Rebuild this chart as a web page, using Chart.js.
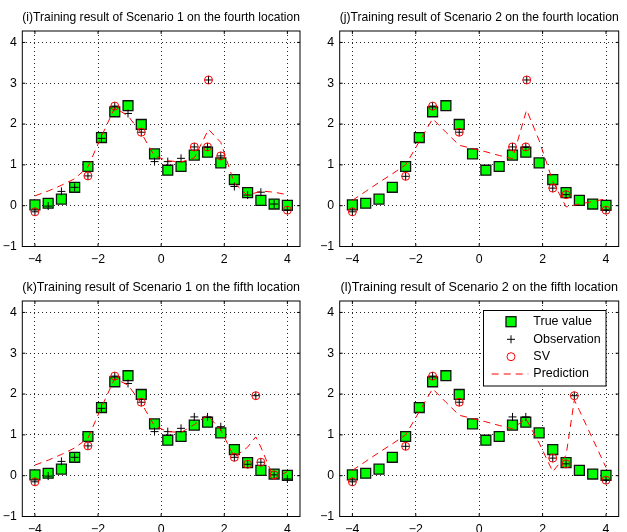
<!DOCTYPE html>
<html>
<head>
<meta charset="utf-8">
<script src="https://cdn.jsdelivr.net/npm/chart.js@4.4.0/dist/chart.umd.min.js"></script>
<style>
html, body { margin: 0; padding: 0; background: #fff; overflow: hidden; }
body { width: 627px; height: 532px; position: relative; }
canvas { position: absolute; }
</style>
</head>
<body>
<canvas id="c1" width="313" height="266" style="left:0;top:0"></canvas>
<canvas id="c2" width="314" height="266" style="left:313px;top:0"></canvas>
<canvas id="c3" width="313" height="262" style="left:0;top:270px"></canvas>
<canvas id="c4" width="314" height="262" style="left:313px;top:270px"></canvas>
<script>
// inputs (20 points on [-4,4]) and true function values
const xGrid = [-4, -3.58, -3.16, -2.74, -2.32, -1.89, -1.47, -1.05, -0.63, -0.21,
               0.21, 0.63, 1.05, 1.47, 1.89, 2.32, 2.74, 3.16, 3.58, 4];
const trueVals = [0.02, 0.06, 0.16, 0.45, 0.96, 1.67, 2.30, 2.45, 1.99, 1.27,
                  0.87, 0.96, 1.24, 1.31, 1.05, 0.64, 0.32, 0.13, 0.04, 0.01];

const xTicks = [-4, -2, 0, 2, 4];
const yTicks = [-1, 0, 1, 2, 3, 4];

const titles = [
  '(i)Training result of Scenario 1 on the fourth location',
  '(j)Training result of Scenario 2 on the fourth location',
  '(k)Training result of Scenario 1 on the fifth location',
  '(l)Training result of Scenario 2 on the fifth location'
];
const legendLabels = ['True value', 'Observation', 'SV', 'Prediction'];

// (i) scenario 1, fourth location
const obsX_i = [-4, -3.58, -3.16, -2.74, -2.32, -1.89, -1.47, -1.05, -0.63, -0.21,
                0.21, 0.63, 1.05, 1.47, 1.5, 1.89, 2.32, 2.74, 3.16, 3.58, 4];
const obsY_i = [-0.15, -0.01, 0.35, 0.45, 0.73, 1.65, 2.44, 2.26, 1.80, 1.08,
                1.08, 1.16, 1.44, 1.44, 3.08, 1.22, 0.47, 0.26, 0.33, 0.04, -0.11];
const sv_i = [0, 4, 6, 8, 12, 13, 14, 15, 20];
const predX_loc4 = [-4, -3.58, -3.16, -2.74, -2.32, -1.89, -1.47, -1.05, -0.63, -0.21,
                    0.21, 0.63, 1.05, 1.47, 1.5, 1.89, 2.32, 2.74, 3.16, 3.58, 4];
const pred_i = [0.24, 0.36, 0.50, 0.66, 0.95, 1.70, 2.40, 2.20, 1.78, 1.22,
                1.10, 1.07, 1.17, 1.82, 1.87, 1.55, 0.55, 0.25, 0.36, 0.33, 0.27];

// (j) scenario 2, fourth location
const obsX_j = [-4, -2.32, -1.47, -0.63, 1.05, 1.47, 1.5, 2.32, 2.74, 4];
const obsY_j = [-0.15, 0.72, 2.44, 1.80, 1.44, 1.44, 3.08, 0.43, 0.27, -0.11];
const sv_j = [0, 1, 2, 3, 4, 5, 6, 7, 8, 9];
const pred_j = [0.13, 0.35, 0.57, 0.78, 1.00, 1.57, 2.13, 1.80, 1.48, 1.40,
                1.32, 1.23, 1.15, 2.28, 2.34, 1.60, 0.60, -0.03, 0.04, 0.10, 0.17];

// (k) scenario 1, fifth location
const obsX_k = [-4, -3.58, -3.16, -2.74, -2.32, -1.89, -1.47, -1.05, -0.63, -0.21,
                0.21, 0.63, 1.05, 1.47, 1.89, 2.32, 2.74, 3.0, 3.16, 3.58, 4];
const obsY_k = [-0.15, -0.01, 0.35, 0.45, 0.73, 1.65, 2.44, 2.26, 1.80, 1.08,
                1.08, 1.16, 1.44, 1.44, 1.20, 0.45, 0.28, 1.96, 0.33, 0.02, -0.08];
const sv_k = [0, 4, 6, 8, 15, 16, 17, 18, 19];
const predX_loc5 = [-4, -3.58, -3.16, -2.74, -2.32, -1.89, -1.47, -1.05, -0.63, -0.21,
                    0.21, 0.63, 1.05, 1.47, 1.89, 2.32, 2.74, 3.0, 3.16, 3.58, 4];
const pred_k = [0.26, 0.38, 0.52, 0.68, 0.92, 1.68, 2.38, 2.22, 1.78, 1.22,
                1.08, 1.06, 1.25, 1.48, 1.12, 0.45, 0.70, 0.95, 0.70, -0.08, 0.10];

// (l) scenario 2, fifth location
const obsX_l = [-4, -2.32, -1.47, -0.63, 1.05, 1.47, 2.32, 2.74, 3.0, 4];
const obsY_l = [-0.15, 0.72, 2.44, 1.80, 1.44, 1.44, 0.43, 0.29, 1.96, -0.11];
const sv_l = [0, 1, 2, 3, 6, 7, 8, 9];
const pred_l = [0.13, 0.35, 0.57, 0.78, 1.00, 1.57, 2.13, 1.80, 1.48, 1.40,
                1.32, 1.23, 1.15, 1.40, 0.80, 0.10, 0.50, 1.85, 1.60, 0.90, 0.20];

const FONT = "'Liberation Sans', Arial, Helvetica, sans-serif";
const GREEN = '#00ff00';
const DASH = [7, 5];

function pts(xs, ys) {
    return xs.map((x, i) => ({x: x, y: ys[i]}));
}

function minusLabel(v) {
    return v < 0 ? '\u2212' + Math.abs(v) : String(v);
}

// axes box + inward tick marks, like the matlab figure
const frame = {
    id: 'frame',
    afterDraw(chart) {
        const {ctx, chartArea: a, scales: {x, y}} = chart;
        ctx.save();
        ctx.strokeStyle = '#000';
        ctx.lineWidth = 1;
        ctx.setLineDash([]);
        ctx.strokeRect(a.left, a.top, a.right - a.left, a.bottom - a.top);
        ctx.beginPath();
        for (let v of xTicks) {
            let px = x.getPixelForValue(v);
            ctx.moveTo(px, a.bottom); ctx.lineTo(px, a.bottom - 3);
            ctx.moveTo(px, a.top); ctx.lineTo(px, a.top + 3);
        }
        for (let v of yTicks) {
            let py = y.getPixelForValue(v);
            ctx.moveTo(a.left, py); ctx.lineTo(a.left + 3, py);
            ctx.moveTo(a.right, py); ctx.lineTo(a.right - 3, py);
        }
        ctx.stroke();
        ctx.restore();
    }
};

const legendBox = {
    id: 'legendBox',
    afterDraw(chart) {
        if (!chart.options.plugins.legendBox || !chart.options.plugins.legendBox.show) return;
        const ctx = chart.ctx;
        const bx = 170.5, by = 40.5, bw = 122.5, bh = 75.5;
        const rows = [51.7, 69.3, 86.7, 104];
        const mx = 198, tx = 220.3;
        ctx.save();
        ctx.fillStyle = '#fff';
        ctx.fillRect(bx, by, bw, bh);
        ctx.strokeStyle = '#000';
        ctx.lineWidth = 1;
        ctx.strokeRect(bx, by, bw, bh);

        // true value square
        ctx.fillStyle = GREEN;
        ctx.fillRect(mx - 5, rows[0] - 5, 10, 10);
        ctx.lineWidth = 1.3;
        ctx.strokeStyle = '#111';
        ctx.strokeRect(mx - 5, rows[0] - 5, 10, 10);
        // observation plus
        ctx.lineWidth = 1;
        ctx.strokeStyle = '#000';
        ctx.beginPath();
        ctx.moveTo(mx - 4, rows[1]); ctx.lineTo(mx + 4, rows[1]);
        ctx.moveTo(mx, rows[1] - 4); ctx.lineTo(mx, rows[1] + 4);
        ctx.stroke();
        // SV circle
        ctx.strokeStyle = '#ff0000';
        ctx.beginPath();
        ctx.arc(mx, rows[2], 4, 0, Math.PI * 2);
        ctx.stroke();
        // prediction dash
        ctx.setLineDash(DASH);
        ctx.beginPath();
        ctx.moveTo(178.7, rows[3]); ctx.lineTo(215.3, rows[3]);
        ctx.stroke();
        ctx.setLineDash([]);

        ctx.fillStyle = '#000';
        ctx.font = '12.5px ' + FONT;
        ctx.textBaseline = 'middle';
        ctx.textAlign = 'left';
        legendLabels.forEach((t, i) => ctx.fillText(t, tx, rows[i]));
        ctx.restore();
    }
};

function makeChart(id, title, obsX, obsY, svIdx, predX, pred, geo) {
    const svX = svIdx.map(i => obsX[i]);
    const svY = svIdx.map(i => obsY[i]);
    return new Chart(document.getElementById(id), {
        type: 'scatter',
        data: {
            datasets: [
                {
                    label: legendLabels[3],
                    type: 'line',
                    data: pts(predX, pred),
                    borderColor: '#ff0000',
                    borderWidth: 1,
                    borderDash: DASH,
                    pointRadius: 0,
                    fill: false,
                    tension: 0,
                    order: 0
                },
                {
                    label: legendLabels[2],
                    data: pts(svX, svY),
                    pointStyle: 'circle',
                    pointRadius: 4,
                    borderColor: '#ff0000',
                    backgroundColor: 'rgba(0,0,0,0)',
                    borderWidth: 1,
                    order: 1
                },
                {
                    label: legendLabels[1],
                    data: pts(obsX, obsY),
                    pointStyle: 'cross',
                    pointRadius: 4,
                    borderColor: '#000',
                    borderWidth: 1,
                    order: 2
                },
                {
                    label: legendLabels[0],
                    data: pts(xGrid, trueVals),
                    pointStyle: 'rect',
                    pointRadius: 7,
                    backgroundColor: GREEN,
                    borderColor: '#111',
                    borderWidth: 1.3,
                    order: 3
                }
            ]
        },
        options: {
            responsive: false,
            animation: false,
            layout: {padding: {left: 0, right: geo.right, top: 0, bottom: 0}},
            plugins: {
                legend: {display: false},
                tooltip: {enabled: false},
                title: {
                    display: true,
                    text: title,
                    fullSize: false,
                    color: '#000',
                    font: {family: FONT, size: 12.6, weight: 'normal'},
                    padding: {top: 10, bottom: 5.88}
                },
                legendBox: {show: !!geo.legend}
            },
            scales: {
                x: {
                    type: 'linear',
                    min: -4.4,
                    max: 4.4,
                    afterBuildTicks: s => { s.ticks = xTicks.map(v => ({value: v})); },
                    afterFit: s => { s.height = geo.xH; },
                    ticks: {
                        color: '#000',
                        padding: 6,
                        font: {family: FONT, size: 12.3},
                        callback: minusLabel
                    },
                    grid: {color: 'rgba(0,0,0,0.85)', lineWidth: 1, drawTicks: false},
                    border: {display: false, dash: [1, 3]}
                },
                y: {
                    type: 'linear',
                    min: -1,
                    max: 4.28,
                    afterBuildTicks: s => { s.ticks = yTicks.map(v => ({value: v})); },
                    afterFit: s => { s.width = geo.yW; },
                    ticks: {
                        color: '#000',
                        padding: 5.5,
                        font: {family: FONT, size: 12.3},
                        callback: minusLabel
                    },
                    grid: {color: 'rgba(0,0,0,0.85)', lineWidth: 1, drawTicks: false},
                    border: {display: false, dash: [1, 3]}
                }
            }
        },
        plugins: [frame, legendBox]
    });
}

makeChart('c1', titles[0], obsX_i, obsY_i, sv_i, predX_loc4, pred_i, {yW: 22.3, xH: 19.5, right: 13});
makeChart('c2', titles[1], obsX_j, obsY_j, sv_j, predX_loc4, pred_j, {yW: 26.7, xH: 19.5, right: 1.7});
makeChart('c3', titles[2], obsX_k, obsY_k, sv_k, predX_loc5, pred_k, {yW: 22.3, xH: 15.5, right: 13});
makeChart('c4', titles[3], obsX_l, obsY_l, sv_l, predX_loc5, pred_l, {yW: 26.7, xH: 15.5, right: 1.7, legend: true});
</script>
</body>
</html>
